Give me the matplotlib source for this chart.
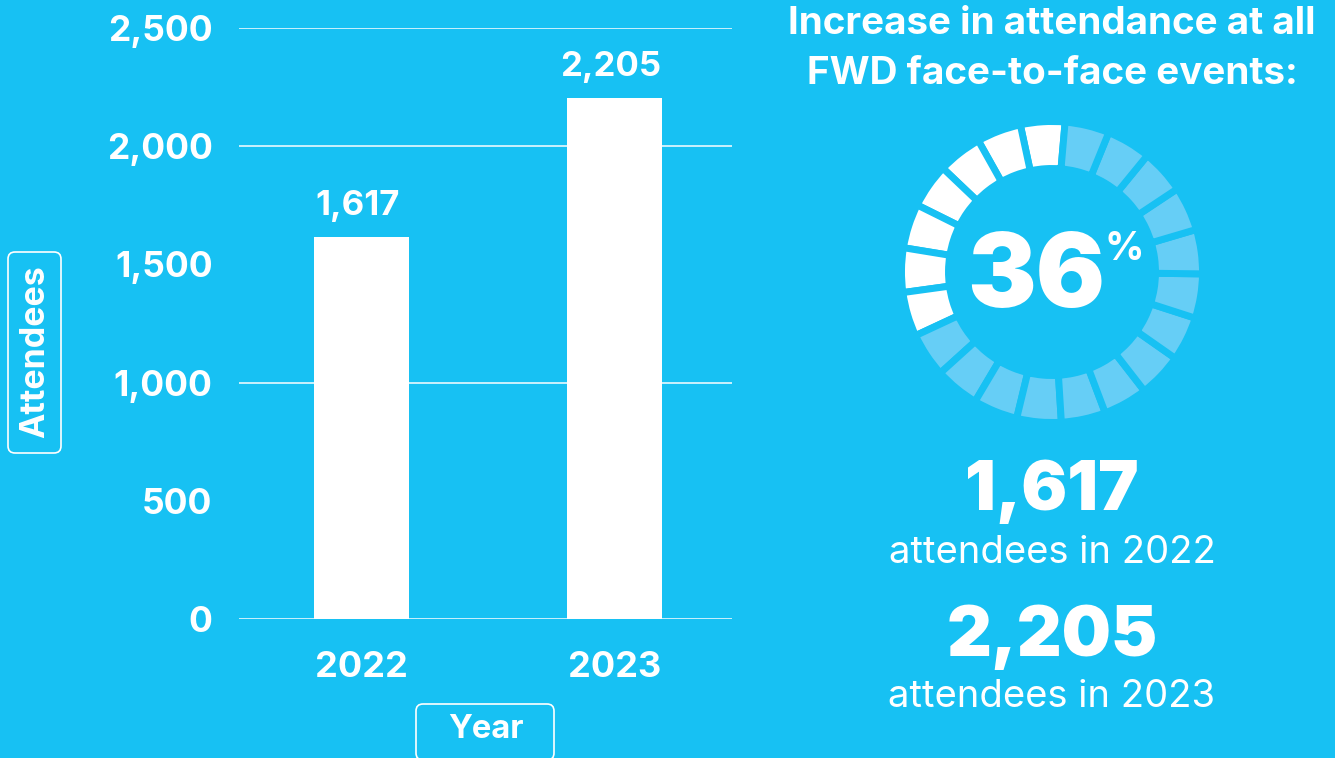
import matplotlib
matplotlib.use("Agg")
import matplotlib.pyplot as plt
from matplotlib.patches import Wedge, FancyBboxPatch

# data
years = ["2022", "2023"]
attendees = [1617, 2205]
y_ticks = [0, 500, 1000, 1500, 2000, 2500]
grid_levels = [0, 1000, 2000, 2500]
pct_increase = 36
n_segments = 21
n_filled = 7

bg = "#17C1F3"
light = "#66CEF6"
plt.rcParams["font.family"] = ["Inter", "DejaVu Sans"]

W, H = 1335, 758
fig = plt.figure(figsize=(W / 100, H / 100), dpi=100, facecolor=bg)

# %% bar chart
ax = fig.add_axes([239 / W, (H - 619) / H, (732 - 239) / W, (619 - 28) / H])
ax.set_facecolor(bg)
x = range(len(years))
for lvl in grid_levels:
    ax.axhline(lvl, color="white", lw=1.2, alpha=0.9, zorder=1)
bars = ax.bar(x, attendees, width=0.375, color="white", zorder=2)
ax.set_xlim(-0.484, 1.464)
ax.set_ylim(0, 2500)
ax.set_yticks(y_ticks)
ax.set_yticklabels([f"{v:,}" for v in y_ticks])
ax.set_xticks(list(x))
ax.set_xticklabels(years)
ax.tick_params(axis="y", length=0, pad=19, labelsize=25.5, labelcolor="white")
ax.tick_params(axis="x", length=0, pad=23, labelsize=26, labelcolor="white")
for lab in ax.get_xticklabels() + ax.get_yticklabels():
    lab.set_fontweight("bold")
for s in ax.spines.values():
    s.set_visible(False)
for b, v in zip(bars, attendees):
    ax.annotate(f"{v:,}", (b.get_x() + b.get_width() / 2, v), xytext=(-3, 16),
                textcoords="offset points", ha="center", va="baseline",
                fontsize=25, fontweight="bold", color="white")

# %% overlay in pixel units
ov = fig.add_axes([0, 0, 1, 1])
ov.set_xlim(0, W)
ov.set_ylim(0, H)
ov.axis("off")
ov.patch.set_alpha(0)

def box(x0, y0, x1, y1):
    ov.add_patch(FancyBboxPatch((x0, H - y1), x1 - x0, y1 - y0,
                                boxstyle="round,pad=0,rounding_size=7",
                                fc="none", ec="white", lw=1.2))

box(8, 252, 61, 453)
ov.text(35, H - 352, "Attendees", rotation=90, ha="center", va="center",
        fontsize=24.5, fontweight="bold", color="white")
box(416, 704, 554, 760)
ov.text(486, H - 730, "Year", ha="center", va="center",
        fontsize=23.5, fontweight="bold", color="white")

# title
ov.text(1052, H - 24, "Increase in attendance at all", ha="center", va="center",
        fontsize=27.8, fontweight="bold", color="white")
ov.text(1052, H - 74, "FWD face-to-face events:", ha="center", va="center",
        fontsize=27.8, fontweight="bold", color="white")

# segmented ring
cx, cy = 1052, H - 272
r_out, r_in = 148, 106
gap = 5.0
step = 360 / n_segments
for k in range(n_segments):
    t1 = 85 + k * step
    col = "white" if k < n_filled else light
    ov.add_patch(Wedge((cx, cy), r_out + 2.5, t1, t1 + step, width=r_out - r_in + 5,
                       fc=col, ec=bg, lw=gap))

ov.text(1036, H - 280, f"{pct_increase}", ha="center", va="center",
        fontsize=74, fontweight="black", color="white")
ov.text(1124, H - 250, "%", ha="center", va="center",
        fontsize=28, fontweight="bold", color="white")

# summary numbers
ov.text(1052, H - 492, f"{attendees[0]:,}", ha="center", va="center",
        fontsize=49, fontweight="black", color="white")
ov.text(1052, H - 553, f"attendees in {years[0]}", ha="center", va="center",
        fontsize=27.5, color="white")
ov.text(1052, H - 637, f"{attendees[1]:,}", ha="center", va="center",
        fontsize=50, fontweight="black", color="white")
ov.text(1052, H - 697, f"attendees in {years[1]}", ha="center", va="center",
        fontsize=27.5, color="white")

fig.savefig("out.png", dpi=100, facecolor=bg)
